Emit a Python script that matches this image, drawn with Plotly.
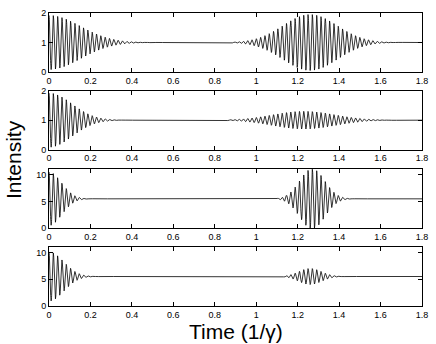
import numpy as np
import plotly.graph_objects as go

# envelope parameters
mean_level = [1.0, 1.0, 5.5, 5.5]
start_amp = [0.92, 0.92, 5.0, 4.6]
start_width = [0.15, 0.11, 0.06, 0.07]
revival_center = [1.26, 1.23, 1.27, 1.26]
revival_amp = [0.95, 0.3, 5.6, 1.5]
revival_width = [0.13, 0.15, 0.06, 0.055]
carrier_freq = [48.0, 48.0, 48.0, 48.0]

y_max = [2, 2, 11, 11]
y_ticks = [[0, 1, 2], [0, 1, 2], [0, 5, 10], [0, 5, 10]]
x_ticks = [0, 0.2, 0.4, 0.6, 0.8, 1, 1.2, 1.4, 1.6, 1.8]

time = np.linspace(0, 1.8, 4000)

W, H = 436, 344
ml, mr, mt, mb = 49, 9, 8, 38
panel_tops = [8, 87, 167, 246]
panel_h = 60
plot_h = H - mt - mb

fig = go.Figure()
font = "Liberation Sans, Arial, sans-serif"

for i in range(4):
    env = (start_amp[i] * np.exp(-(time / start_width[i]) ** 2 / 2)
           + revival_amp[i] * np.exp(-((time - revival_center[i]) / revival_width[i]) ** 2 / 2))
    sig = mean_level[i] + env * np.cos(2 * np.pi * carrier_freq[i] * time)
    n = "" if i == 0 else str(i + 1)
    fig.add_trace(go.Scatter(
        x=time, y=sig, mode="lines",
        line=dict(color="black", width=0.8),
        xaxis="x" + n, yaxis="y" + n, showlegend=False,
    ))
    top = panel_tops[i]
    dom = [(H - mb - (top + panel_h)) / plot_h, (H - mb - top) / plot_h]
    axis_common = dict(
        showline=True, linecolor="black", linewidth=1, mirror="allticks",
        ticks="inside", ticklen=4, tickcolor="black", showgrid=False,
        zeroline=False, tickfont=dict(family=font, size=9, color="black"),
    )
    fig.update_layout(**{
        "xaxis" + n: dict(
            domain=[0, 1], range=[0, 1.8], tickvals=x_ticks,
            ticktext=[f"{v:g}" for v in x_ticks], anchor="y" + n,
            **axis_common,
        ),
        "yaxis" + n: dict(
            domain=dom, range=[0, y_max[i]], tickvals=y_ticks[i],
            anchor="x" + n, **axis_common,
        ),
    })

fig.add_annotation(
    text="Intensity", xref="paper", yref="paper", x=-0.095, y=0.5,
    xanchor="center", yanchor="middle", textangle=-90, showarrow=False,
    font=dict(family=font, size=21, color="black"),
)
fig.add_annotation(
    text="Time (1/γ)", xref="paper", yref="paper", x=0.5, y=0,
    xanchor="center", yanchor="top", showarrow=False, yshift=-12,
    font=dict(family=font, size=21, color="black"),
)

fig.update_layout(
    width=W, height=H,
    margin=dict(l=ml, r=mr, t=mt, b=mb),
    paper_bgcolor="white", plot_bgcolor="white",
)

fig.write_html("out.html", config={"displayModeBar": False},
               post_script="document.body.style.margin='0';")
